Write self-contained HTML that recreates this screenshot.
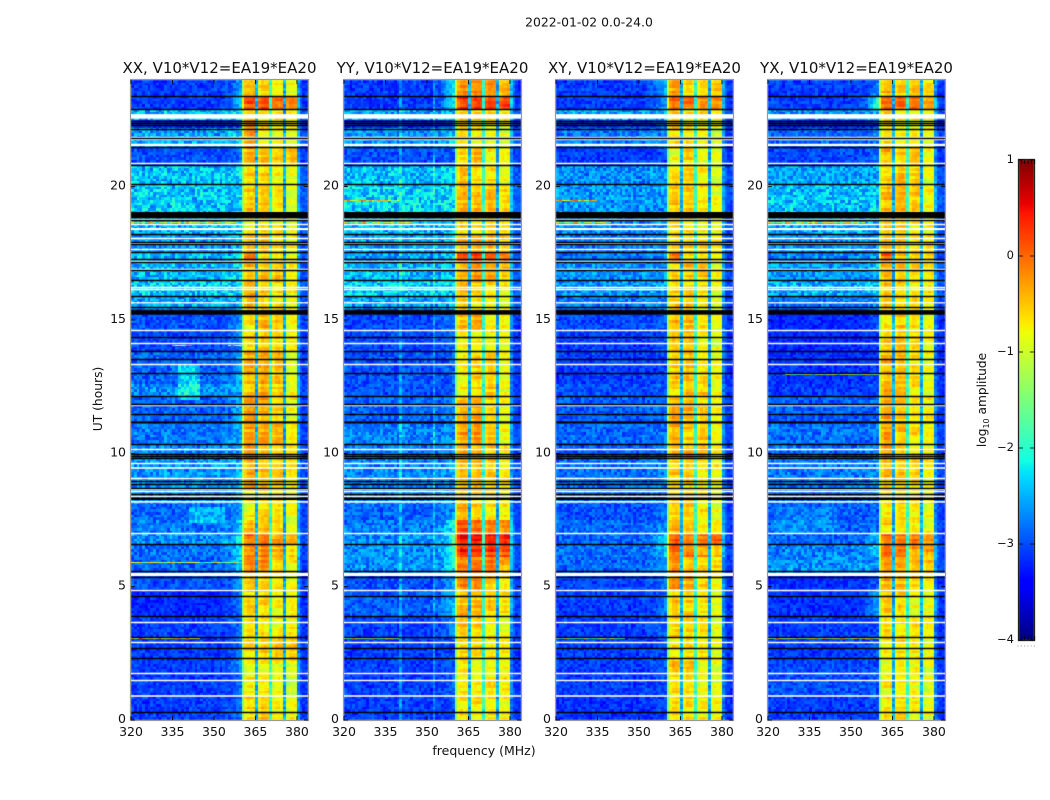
<!DOCTYPE html>
<html>
<head>
<meta charset="utf-8">
<title>2022-01-02 0.0-24.0</title>
<style>
html,body{margin:0;padding:0;background:#fff;}
#stage{position:relative;width:1050px;height:800px;overflow:hidden;background:#fff;}
canvas,svg{position:absolute;left:0;top:0;}
text{font-family:"DejaVu Sans","Liberation Sans",sans-serif;fill:#111;}
</style>
</head>
<body>
<div id="stage">
<canvas id="heat" width="1050" height="800"></canvas>
<svg id="overlay" width="1050" height="800" viewBox="0 0 1050 800">
  <text x="589" y="26.5" text-anchor="middle" font-size="12.4">2022-01-02 0.0-24.0</text>
  <text x="484" y="755" text-anchor="middle" font-size="12.5">frequency (MHz)</text>
  <text transform="translate(102,399) rotate(-90)" text-anchor="middle" font-size="12.3">UT (hours)</text>
  <text transform="translate(986,400) rotate(-90)" text-anchor="middle" font-size="12.2">log<tspan font-size="8" dy="3">10</tspan><tspan dy="-3"> amplitude</tspan></text>
</svg>
</div>
<script>
/* ---------- shared axis values ---------- */
const freqTicks = [320, 335, 350, 365, 380];
const hourTicks = [0, 5, 10, 15, 20];
const colorTicks = [1, 0, -1, -2, -3, -4];
const colorTickLabels = ['1', '0', '\u22121', '\u22122', '\u22123', '\u22124'];
const panelTitles = ['XX, V10*V12=EA19*EA20', 'YY, V10*V12=EA19*EA20', 'XY, V10*V12=EA19*EA20', 'YX, V10*V12=EA19*EA20'];

/* ---------- time segments (hours, top to bottom) ---------- */
const segmentEdges = [24, 23.40, 22.91, 22.53, 22.16, 21.52, 20.81, 20.10, 19.05, 18.75, 18.22, 17.55, 17.17, 16.50, 15.90, 15.37, 14.62, 13.83, 12.56, 12.15, 11.10, 10.35, 9.82, 8.62, 8.06, 7.50, 7.01, 6.60, 6.15, 5.55, 4.87, 3.90, 3.15, 2.25, 1.76, 0.90, 0];

/* ---------- log10 amplitude per segment: [off-band, band-edge, sub1, sub2, sub3, sub4] ---------- */
const xxLevels = [
[-3.1,-2.6,-.5,-.6,-.7,-.8],[-3.1,-2.4,.1,.1,-.05,-.2],[-2.5,-2.3,-.6,-.7,-.7,-.8],[-3.2,-2.9,-.2,-.5,-.6,-.8],
[-2.6,-2.3,-.3,-.7,-.8,-.9],[-3.0,-2.8,-.4,-.4,-.6,-.5],[-2.45,-2.3,-.55,-.55,-.75,-.9],[-2.4,-2.3,-.55,-.55,-.7,-.9],
[-2.4,-2.3,-.55,-.55,-.7,-.9],[-2.5,-2.4,-.75,-.7,-.7,-.9],[-2.65,-2.5,-.55,-.5,-.6,-.8],[-2.5,-2.4,-.15,-.6,-.65,-.75],
[-2.5,-2.4,-.5,-.55,-.45,-.8],[-2.4,-2.3,-.45,-.5,-.65,-.75],[-2.6,-2.5,-.4,-.55,-.7,-.85],[-3.0,-2.6,-.7,-.4,-.6,-.8],
[-3.05,-2.7,-.55,-.45,-.6,-.8],[-2.9,-2.5,-.4,-.4,-.5,-.85],[-2.7,-2.5,-.45,-.45,-.6,-.85],[-2.9,-2.5,-.35,-.4,-.55,-.8],
[-2.8,-2.6,-.3,-.35,-.4,-.8],[-2.75,-2.6,-.25,-.4,-.45,-.7],[-2.65,-2.5,-.35,-.45,-.55,-.75],[-2.7,-2.6,-.6,-.6,-.7,-.85],
[-2.9,-2.5,-.75,-.6,-.7,-.85],[-2.8,-2.4,-.5,-.5,-.65,-.85],[-2.7,-2.2,-.05,-.1,-.25,-.35],[-2.85,-2.3,-.15,-.2,-.4,-.65],
[-2.9,-2.4,-.25,-.3,-.5,-.75],[-3.0,-2.7,-.55,-.55,-.65,-.8],[-3.2,-2.8,-.6,-.6,-.75,-.8],[-3.1,-2.8,-.7,-.65,-.75,-.8],
[-3.1,-2.8,-.6,-.55,-.55,-.55],[-3.1,-2.6,-.8,-.8,-.85,-.95],[-3.1,-2.8,-.75,-.75,-.9,-1.0],[-3.1,-2.8,-.6,-.6,-.75,-.8]];
const yyLevels = [
[-3.1,-2.2,-.2,-.25,-.3,-.3],[-3.1,-2.1,.25,.2,.2,.2],[-2.6,-2.4,-.5,-.6,-.6,-.75],[-3.2,-2.9,-.7,-.7,-.7,-.8],
[-2.7,-2.4,-.7,-.75,-.8,-.9],[-3.0,-2.9,-.65,-.45,-.75,-.85],[-2.5,-2.4,-.55,-.6,-.7,-.9],[-2.35,-2.3,-.4,-.45,-.5,-.7],
[-2.35,-2.3,-.4,-.45,-.5,-.7],[-2.5,-2.4,-.6,-.65,-.7,-.75],[-2.6,-2.5,-.4,-.4,-.5,-.5],[-2.6,-2.4,.15,.15,0,0],
[-2.5,-2.4,-.25,-.2,-.35,-.5],[-2.4,-2.3,-.5,-.55,-.6,-.75],[-2.6,-2.5,-.6,-.7,-.75,-.85],[-3.05,-2.7,-.5,-.4,-.7,-.85],
[-3.05,-2.9,-.8,-.7,-.8,-.9],[-3.0,-2.9,-.75,-.55,-.6,-.85],[-3.0,-2.9,-.75,-.6,-.55,-.85],[-2.9,-2.7,-.4,-.4,-.7,-.8],
[-2.75,-2.6,-.25,-.3,-.5,-.75],[-2.8,-2.7,-.45,-.45,-.5,-.7],[-2.75,-2.6,-.5,-.45,-.5,-.75],[-2.7,-2.6,-.6,-.6,-.7,-.85],
[-2.9,-2.6,-.4,-.5,-.7,-.8],[-2.8,-2.1,.15,-.05,-.2,-.3],[-2.7,-1.9,.5,.35,.35,.35],[-2.7,-1.9,.3,.3,.2,.1],
[-2.7,-2.2,-.1,-.1,-.2,-.35],[-3.0,-2.5,-.2,-.25,-.5,-.65],[-2.95,-2.4,-.4,-.45,-.55,-.7],[-3.1,-2.7,-.55,-.6,-.7,-.8],
[-3.1,-3.0,-.65,-.65,-.75,-.8],[-3.1,-3.0,-.8,-.8,-.8,-.85],[-3.1,-2.9,-.7,-.7,-.7,-.8],[-3.1,-3.0,-.65,-.7,-.75,-.8]];
const xyLevels = [
[-3.1,-2.4,-.3,-.6,-.65,-.6],[-3.1,-2.5,0,-.05,-.3,-.2],[-2.6,-2.5,-.55,-.7,-.7,-.8],[-3.1,-2.9,-.35,-.75,-.8,-.85],
[-2.8,-2.6,-.6,-.8,-.85,-.95],[-3.1,-3.0,-.85,-.55,-.85,-.85],[-2.7,-2.6,-.7,-.6,-.75,-.95],[-2.65,-2.6,-.55,-.55,-.65,-.85],
[-2.65,-2.6,-.55,-.55,-.65,-.85],[-2.7,-2.6,-.7,-.65,-.75,-.85],[-2.8,-2.7,-.55,-.55,-.65,-.8],[-2.8,-2.6,-.15,-.6,-.65,-.8],
[-2.7,-2.6,-.6,-.45,-.5,-.8],[-2.65,-2.6,-.55,-.65,-.75,-.85],[-2.8,-2.7,-.55,-.65,-.75,-.9],[-3.05,-2.9,-.45,-.45,-.75,-.85],
[-3.1,-3.0,-.6,-.55,-.8,-.9],[-3.1,-3.0,-.6,-.5,-.65,-.9],[-3.0,-2.9,-.7,-.45,-.55,-.9],[-2.95,-2.8,-.35,-.4,-.6,-.8],
[-2.9,-2.8,-.4,-.5,-.6,-.8],[-2.95,-2.8,-.4,-.4,-.45,-.75],[-2.85,-2.7,-.55,-.55,-.7,-.8],[-2.85,-2.7,-.6,-.6,-.7,-.85],
[-3.0,-2.8,-.6,-.55,-.7,-.85],[-2.9,-2.6,-.45,-.55,-.7,-.8],[-2.9,-2.3,0,-.2,-.1,-.05],[-2.85,-2.25,-.05,-.05,-.3,-.55],
[-2.9,-2.6,-.2,-.45,-.55,-.7],[-3.05,-2.7,-.25,-.3,-.65,-.85],[-3.1,-2.8,-.5,-.55,-.8,-.9],[-3.1,-2.9,-.6,-.65,-.7,-.85],
[-3.1,-3.0,-.75,-.7,-.75,-.85],[-3.1,-2.9,-.5,-.55,-.8,-.9],[-3.1,-3.0,-.7,-.7,-.8,-.9],[-3.15,-3.0,-.7,-.65,-.8,-.85]];
const yxLevels = [
[-3.1,-2.7,-.45,-.5,-.45,-.65],[-3.1,-2.0,-.05,-.05,-.05,-.35],[-2.7,-2.5,-.55,-.65,-.7,-.8],[-3.2,-3.1,-.65,-.7,-.7,-.85],
[-2.9,-2.8,-.7,-.75,-.8,-.95],[-3.05,-2.9,-.4,-.55,-.45,-.8],[-2.6,-2.5,-.55,-.5,-.6,-.9],[-2.45,-2.4,-.45,-.45,-.55,-.75],
[-2.45,-2.4,-.45,-.45,-.55,-.75],[-2.55,-2.5,-.6,-.6,-.7,-.85],[-2.7,-2.6,-.5,-.5,-.6,-.75],[-2.7,-2.5,0,-.45,-.5,-.7],
[-2.65,-2.5,-.45,-.5,-.5,-.75],[-2.55,-2.5,-.5,-.55,-.7,-.8],[-2.8,-2.7,-.55,-.6,-.7,-.85],[-3.2,-3.0,-.65,-.55,-.7,-.85],
[-3.2,-3.1,-.5,-.5,-.65,-.85],[-3.15,-3.1,-.4,-.5,-.65,-.85],[-3.1,-2.9,-.4,-.5,-.7,-.85],[-2.95,-2.85,-.4,-.45,-.65,-.8],
[-2.85,-2.8,-.35,-.45,-.6,-.8],[-2.85,-2.8,-.3,-.5,-.6,-.75],[-2.8,-2.7,-.45,-.5,-.65,-.8],[-2.85,-2.75,-.6,-.6,-.7,-.85],
[-2.95,-2.9,-.75,-.7,-.8,-.85],[-2.9,-2.8,-.6,-.65,-.7,-.8],[-2.9,-2.5,0,-.1,-.1,-.2],[-2.75,-2.2,-.1,-.2,-.3,-.35],
[-2.7,-2.6,-.3,-.35,-.4,-.5],[-3.15,-2.9,-.4,-.45,-.6,-.8],[-3.15,-2.6,-.55,-.6,-.8,-.9],[-3.1,-3.0,-.7,-.65,-.75,-.85],
[-3.1,-3.0,-.65,-.65,-.75,-.85],[-3.05,-3.0,-.85,-.85,-.85,-.95],[-3.0,-2.95,-.75,-.75,-.8,-.9],[-3.1,-3.0,-.7,-.65,-.75,-.85]];
const panelLevels = [xxLevels, yyLevels, xyLevels, yxLevels];

/* ---------- localised features: [hourTop, hourBottom, mhzStart, mhzEnd, added log amplitude] ---------- */
const xxPatches = [[13.3, 12.0, 337, 345, 0.55], [8.0, 7.4, 341, 354, 0.4]];
const yyPatches = [];
const xyPatches = [];
const yxPatches = [[8.0, 7.0, 322, 345, 0.2]];
const panelPatches = [xxPatches, yyPatches, xyPatches, yxPatches];

/* channels with persistent excess power */
const xxHotChannels = [];
const yyHotChannels = [340, 352];
const xyHotChannels = [];
const yxHotChannels = [];
const panelHotChannels = [xxHotChannels, yyHotChannels, xyHotChannels, yxHotChannels];

/* narrow interference traces: [hour, mhzStart, mhzEnd, log amplitude] */
const xxTraces = [[18.65, 320, 358, -1.3], [14.03, 335, 342, -0.8], [14.03, 355, 360, -0.5], [5.87, 320, 360, -1.3], [3.03, 320, 345, -0.6]];
const yyTraces = [[19.45, 320, 340, -0.8], [18.65, 320, 345, -1.3], [3.03, 320, 340, -1.2]];
const xyTraces = [[19.45, 320, 335, -0.7], [18.65, 320, 340, -1.3], [3.03, 320, 345, -1.5]];
const yxTraces = [[18.65, 320, 355, -1.3], [12.92, 326, 360, -1.5], [3.03, 320, 360, -1.0]];
const panelTraces = [xxTraces, yyTraces, xyTraces, yxTraces];

/* ---------- flagged data (hours) ---------- */
const blackFlagHours = [23.40, 22.90, 22.47, 22.38, 22.31, 22.16, 21.82, 21.50, 20.80, 20.09, 18.74, 18.21, 17.92, 17.85, 17.55, 17.28, 17.16, 16.87, 16.51, 15.89, 15.47, 14.35, 13.82, 13.52, 13.01, 12.16, 11.85, 11.47, 10.34, 9.96, 9.90, 9.82, 8.97, 8.86, 8.71, 8.46, 6.61, 5.59, 5.36, 4.64, 3.89, 3.12, 2.69, 2.31, 0.31];
const blackFlagBands = [[19.05, 18.81], [15.37, 15.20], [11.20, 11.12], [8.34, 8.25]];
const whiteFlagHours = [21.87, 21.77, 20.90, 18.80, 18.60, 18.06, 17.88, 17.65, 17.21, 16.91, 16.25, 16.17, 14.61, 14.15, 13.34, 11.81, 10.15, 9.65, 9.06, 8.65, 8.58, 7.00, 4.86, 3.66, 2.92, 1.75, 1.49];
const whiteFlagBands = [[22.72, 22.55], [21.61, 21.52], [18.45, 18.37], [15.67, 15.62], [9.48, 9.42], [8.41, 8.36], [8.21, 8.15], [5.52, 5.40], [0.93, 0.87]];

/* ---------- frequency profile ---------- */
const edgeRamp = [0, 0, .05, .1, .15, .25, .4, .55, .75, .95];        /* channels 350-359 */
const subbandShape = [-.12, .02, .03, 0];                             /* within each 4-channel sub-band */
const notchLevels = [-2.5, -2.0, -2.55];                              /* at 365, 370, 375 MHz */

/* hand-written grain, standing in for measurement speckle */
const grain = [.31,-.72,.15,.88,-.43,-.09,.64,-.96,.27,.52,-.18,-.61,.93,.05,-.34,.71,-.83,.42,-.25,.12,.79,-.55,-.02,.36,-.91,.58,.21,-.67,.84,-.13,-.47,.97,-.29,.08,.49,-.76,.66,-.38,.18,-.58,.75,.02,-.88,.39,.61,-.21,-.99,.45,.25,-.51,.82,-.06,.33,-.7,.56,-.32,.9,-.15,-.8,.11,.69];

/* ---------- geometry and scales ---------- */
const panelLeft = [131, 344, 556, 768];
const panelTop = 80, panelHeight = 640, panelWidth = 177;
const mhzMin = 320, mhzMax = 384, hourMin = 0, hourMax = 24;
const rowHours = 0.1;
function xScale(panel, mhz) { return panelLeft[panel] + (mhz - mhzMin) / (mhzMax - mhzMin) * panelWidth; }
function yScale(hour) { return panelTop + panelHeight * (hourMax - hour) / (hourMax - hourMin); }

function jet(t) {
  t = Math.max(0, Math.min(1, t));
  function seg(p) {
    for (var i = 1; i < p.length; i++) {
      if (t <= p[i][0]) { return p[i - 1][1] + (p[i][1] - p[i - 1][1]) * (t - p[i - 1][0]) / (p[i][0] - p[i - 1][0]); }
    }
    return p[p.length - 1][1];
  }
  var r = seg([[0, 0], [.35, 0], [.66, 1], [.89, 1], [1, .5]]);
  var g = seg([[0, 0], [.125, 0], [.375, 1], [.64, 1], [.91, 0], [1, 0]]);
  var b = seg([[0, .5], [.11, 1], [.34, 1], [.65, 0], [1, 0]]);
  return 'rgb(' + Math.round(r * 255) + ',' + Math.round(g * 255) + ',' + Math.round(b * 255) + ')';
}
function colorOf(logAmp) { return jet((logAmp + 4) / 5); }

function segmentIndex(hour) {
  for (var i = 0; i < segmentEdges.length - 1; i++) {
    if (hour <= segmentEdges[i] && hour >= segmentEdges[i + 1]) { return i; }
  }
  return segmentEdges.length - 2;
}

function cellValue(panel, row, mhz) {
  var hour = hourMin + (row + 0.5) * rowHours;
  var lv = panelLevels[panel][segmentIndex(hour)];
  var off = lv[0], edge = lv[1];
  var g1 = grain[(row * row * 3 + mhz * mhz * 5 + row * 13 + mhz * 29 + row * mhz * 7 + panel * 5) % grain.length];
  var g3 = grain[(mhz * 3 + (row >> 2) * 5 + panel) % grain.length];
  if (mhz >= 360 && mhz < 380) {
    if (mhz === 360) { return lv[2] - .8 + g1 * .05; }
    var sub = Math.floor((mhz - 360) / 5);
    var pos = (mhz - 360) % 5;
    if (pos === 0) { return notchLevels[sub - 1] + g1 * .25; }
    var shape = subbandShape[pos - 1];
    var g2 = grain[(row * 7 + panel * 11 + sub * 3) % grain.length];
    return lv[2 + sub] + shape + g2 * .2 + g1 * .1 + g3 * .08;
  }
  if (mhz >= 380) {
    if (mhz === 380) { return .5 * edge + .5 * -3.1 + .25 + g1 * .2; }
    if (mhz === 381) { return .25 * edge + .75 * -3.1 + g1 * .2; }
    return -3.15 + (off + 3.1) * .3 + g1 * .18;
  }
  var v = off;
  if (mhz >= 350) { v = off + (edge - off) * edgeRamp[mhz - 350]; }
  panelPatches[panel].forEach(function (p) {
    if (hour <= p[0] && hour >= p[1] && mhz >= p[2] && mhz < p[3]) { v = Math.max(v, off + p[4]); }
  });
  if (panelHotChannels[panel].indexOf(mhz) >= 0) { v += .4; }
  return v + g1 * (.2 + (off + 3.2) * .3) + g3 * .05;
}

/* ---------- heatmaps ---------- */
var ctx = document.getElementById('heat').getContext('2d');
function snapBand(y, thick) { return [Math.round(y) - .25, thick]; }
for (var p = 0; p < 4; p++) {
  ctx.save();
  ctx.beginPath();
  ctx.rect(panelLeft[p], panelTop, panelWidth, panelHeight);
  ctx.clip();
  var rows = Math.round((hourMax - hourMin) / rowHours);
  for (var r = 0; r < rows; r++) {
    var yB = Math.round(yScale(hourMin + r * rowHours)), yT = Math.round(yScale(hourMin + (r + 1) * rowHours));
    for (var c = mhzMin; c < mhzMax; c++) {
      var xL = Math.round(xScale(p, c)), xR = Math.round(xScale(p, c + 1));
      ctx.fillStyle = colorOf(cellValue(p, r, c));
      ctx.fillRect(xL, yT, xR - xL, yB - yT);
    }
  }
  panelTraces[p].forEach(function (t) {
    for (var m = t[1]; m < t[2]; m++) {
      var jitter = grain[(m * 17 + Math.round(t[0] * 10)) % grain.length];
      ctx.fillStyle = colorOf(t[3] + jitter * 1.0);
      ctx.fillRect(Math.round(xScale(p, m)), Math.round(yScale(t[0])) - 1, Math.round(xScale(p, m + 1)) - Math.round(xScale(p, m)), 1);
    }
  });
  ctx.fillStyle = '#fff';
  whiteFlagHours.forEach(function (h) { var s = snapBand(yScale(h), 1.5); ctx.fillRect(panelLeft[p], s[0], panelWidth, s[1]); });
  whiteFlagBands.forEach(function (b) { ctx.fillRect(panelLeft[p], yScale(b[0]), panelWidth, yScale(b[1]) - yScale(b[0])); });
  ctx.fillStyle = '#000';
  blackFlagHours.forEach(function (h) { var s = snapBand(yScale(h), 1.5); ctx.fillRect(panelLeft[p], s[0], panelWidth, s[1]); });
  blackFlagBands.forEach(function (b) { ctx.fillRect(panelLeft[p], yScale(b[0]), panelWidth, yScale(b[1]) - yScale(b[0])); });
  ctx.restore();
}

/* ---------- colorbar ---------- */
const cbarMin = -4, cbarMax = 1;
const cbarLeft = 1019, cbarWidth = 15, cbarTop = 160, cbarHeight = 480;
function cbarY(v) { return cbarTop + cbarHeight * (cbarMax - v) / (cbarMax - cbarMin); }
for (var py = 0; py < cbarHeight; py++) {
  ctx.fillStyle = colorOf(cbarMax - (py + .5) / cbarHeight * (cbarMax - cbarMin));
  ctx.fillRect(cbarLeft, cbarTop + py, cbarWidth, 1);
}

/* ---------- svg chrome ---------- */
var svg = document.getElementById('overlay');
var NS = 'http://www.w3.org/2000/svg';
function make(tag, attrs, parent) {
  var el = document.createElementNS(NS, tag);
  for (var k in attrs) { el.setAttribute(k, attrs[k]); }
  (parent || svg).appendChild(el);
  return el;
}
panelTitles.forEach(function (title, i) {
  var left = panelLeft[i], right = left + panelWidth, bottom = panelTop + panelHeight;
  var g = make('g', {});
  
  
  var t = make('text', { x: left + panelWidth / 2, y: 73, 'text-anchor': 'middle', 'font-size': 15 }, g);
  t.textContent = title;
  
  
  var frame = make('rect', { x: left - .5, y: panelTop - .5, width: panelWidth + 1, height: panelHeight + 1, fill: 'none', stroke: '#999', 'stroke-width': 1.2 }, g);
  
  
  freqTicks.forEach(function (f) {
    var x = xScale(i, f);
    var b = make('line', { x1: x, x2: x, y1: bottom, y2: bottom - 4, stroke: '#000', 'stroke-width': .8 }, g);
    
    
    var tp = make('line', { x1: x, x2: x, y1: panelTop, y2: panelTop + 4, stroke: '#000', 'stroke-width': .8 }, g);
    
    
    var lb = make('text', { x: x, y: bottom + 16, 'text-anchor': 'middle', 'font-size': 12.5 }, g);
    lb.textContent = f;
    
    
  });
  hourTicks.forEach(function (h) {
    var y = yScale(h);
    var a = make('line', { x1: left, x2: left + 4, y1: y, y2: y, stroke: '#000', 'stroke-width': .8 }, g);
    
    
    var b = make('line', { x1: right, x2: right - 4, y1: y, y2: y, stroke: '#000', 'stroke-width': .8 }, g);
    
    
    var lb = make('text', { x: left - 5, y: y + 3, 'text-anchor': 'end', 'font-size': 12.5 }, g);
    lb.textContent = h;
    
    
  });
});

var cg = make('g', {});


var outer = make('rect', { x: cbarLeft - .5, y: cbarTop - .5, width: cbarWidth + 1, height: cbarHeight + 1, fill: 'none', stroke: '#222', 'stroke-width': 1.3 }, cg);


colorTicks.forEach(function (v, i) {
  var y = cbarY(v);
  var a = make('line', { x1: cbarLeft, x2: cbarLeft + 4, y1: y, y2: y, stroke: '#000', 'stroke-width': .8 }, cg);
  
  
  var b = make('line', { x1: cbarLeft + cbarWidth, x2: cbarLeft + cbarWidth - 4, y1: y, y2: y, stroke: '#000', 'stroke-width': .8 }, cg);
  
  
  var lb = make('text', { x: cbarLeft - 5, y: y + 3, 'text-anchor': 'end', 'font-size': 11.5 }, cg);
  lb.textContent = colorTickLabels[i];
  
  
});
for (var m = 0; m < 5; m++) {
  var mx = cbarLeft + 2.5 + m * 3.3;
  var t1 = make('line', { x1: mx, x2: mx, y1: cbarTop, y2: cbarTop + 4, stroke: '#000', 'stroke-width': .8 }, cg);
  
  
  var t2 = make('line', { x1: mx, x2: mx, y1: cbarTop + cbarHeight, y2: cbarTop + cbarHeight - 4, stroke: '#000', 'stroke-width': .8 }, cg);
  
  
}
for (var d = 0; d < 6; d++) {
  var dot = make('rect', { x: 1017.5 + d * 3.3, y: 645.5, width: 1, height: 1, fill: '#999' }, cg);
  
  
}
</script>
</body>
</html>
